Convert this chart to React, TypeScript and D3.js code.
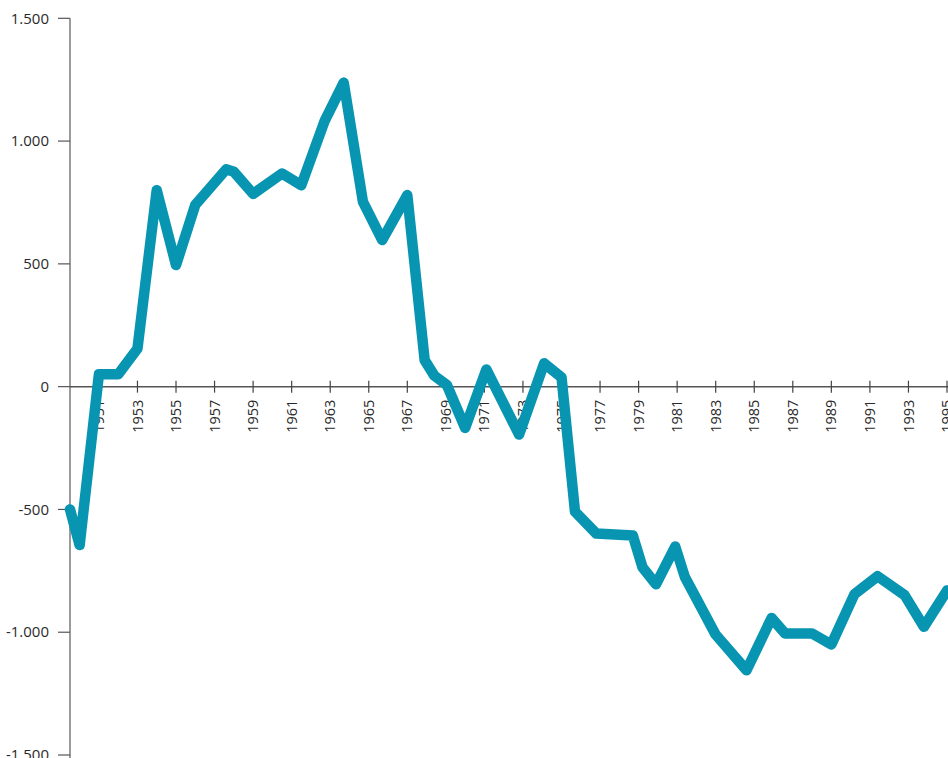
import React from "react";
import * as d3 from "d3";

// Data (fractional years, values)
const years = [
  1949.5, 1950, 1951, 1952, 1953, 1954, 1955, 1956, 1957.6, 1958, 1959, 1960.5,
  1961.5, 1962.7, 1963.7, 1964.7, 1965.7, 1967, 1967.9, 1968.4, 1969.05, 1970,
  1971.1, 1972.8, 1974.1, 1975, 1975.7, 1976.8, 1978.7, 1979.2, 1979.9, 1980.9,
  1981.4, 1983, 1984.6, 1985.9, 1986.6, 1988, 1989, 1990.2, 1991.4, 1992.8,
  1993.8, 1995,
];
const values = [
  -500, -645, 50, 50, 155, 800, 495, 740, 885, 875, 785, 868,
  820, 1080, 1238, 752, 597, 780, 108, 45, 7, -168,
  70, -195, 95, 38, -509, -598, -606, -735, -805, -651,
  -775, -1010, -1155, -942, -1005, -1005, -1050, -845, -772, -849,
  -978, -830,
];
const xTicks = [
  1951, 1953, 1955, 1957, 1959, 1961, 1963, 1965, 1967, 1969, 1971, 1973,
  1975, 1977, 1979, 1981, 1983, 1985, 1987, 1989, 1991, 1993, 1995,
];
const yTicks = [-1500, -1000, -500, 0, 500, 1000, 1500];

const FONT = "'Open Sans', sans-serif";

export default function App() {
  const x = d3.scaleLinear().domain([1949.5, 1995]).range([70, 947]);
  const y = d3.scaleLinear().domain([-1500, 1500]).range([755, 18.3]);
  const locale = d3.formatLocale({
    decimal: ",",
    thousands: ".",
    grouping: [3],
    currency: ["", "€"],
    minus: "-",
  });
  const fmt = locale.format(",");
  const data = years.map((yr, i) => ({ yr, v: values[i] }));
  const line = d3
    .line<{ yr: number; v: number }>()
    .x((d) => x(d.yr))
    .y((d) => y(d.v));
  const y0 = y(0);

  return (
    <div
      style={{
        position: "fixed",
        left: 0,
        top: 0,
        width: 948,
        height: 758,
        overflow: "hidden",
        background: "#fff",
      }}
    >
      <svg width={1000} height={800} style={{ display: "block" }}>
        {/* y axis */}
        <line x1={x(1949.5)} x2={x(1949.5)} y1={y(1500)} y2={800} stroke="#7a7a7a" strokeWidth={1.5} />
        {yTicks.map((t) => (
          <g key={t} transform={`translate(0,${y(t)})`}>
            <line x1={58} x2={70} stroke="#555" strokeWidth={1.2} />
            <text
              x={49}
              dy="0.35em"
              textAnchor="end"
              fontFamily={FONT}
              fontSize={15}
              fill="#2a2a2a"
            >
              {fmt(t)}
            </text>
          </g>
        ))}
        {/* x axis */}
        <line x1={70} x2={1000} y1={y0} y2={y0} stroke="#555" strokeWidth={1.5} />
        {xTicks.map((t) => (
          <g key={t} transform={`translate(${x(t)},${y0})`}>
            <line y1={-6} y2={6} stroke="#444" strokeWidth={1.2} />
            <text
              transform="rotate(-90)"
              x={-13}
              dy="0.35em"
              textAnchor="end"
              fontFamily={FONT}
              fontSize={14.5}
              fill="#2a2a2a"
            >
              {t}
            </text>
          </g>
        ))}
        {/* line */}
        <path
          d={line(data) || ""}
          fill="none"
          stroke="#0795b1"
          strokeWidth={10.5}
          strokeLinejoin="round"
          strokeLinecap="round"
        />
      </svg>
    </div>
  );
}
